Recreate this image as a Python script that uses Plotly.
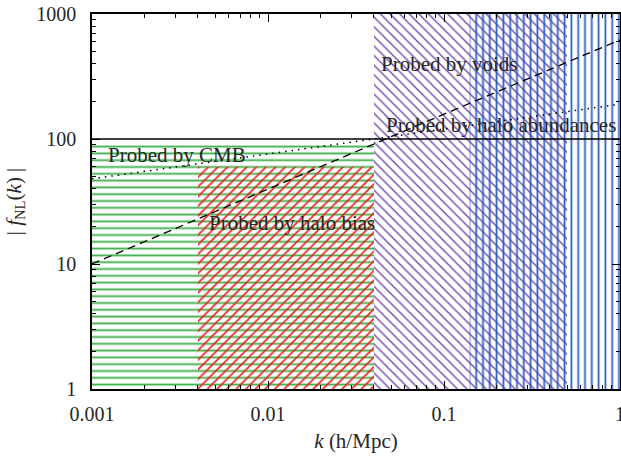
import numpy as np
import plotly.graph_objects as go

# Probed regions in (k, |f_NL|) space: [k_min, k_max], [f_min, f_max]
cmb_k = [0.001, 0.04]
cmb_f = [1, 90]
bias_k = [0.004, 0.04]
bias_f = [1, 60]
voids_k = [0.04, 0.5]
voids_f = [1, 1000]
abund_k = [0.14, 1.0]
abund_f = [1, 1000]

# Model curves
dashed_k = [0.001, 0.01, 0.1, 1.0]
dashed_f = [10, 40, 158, 620]
dotted_k = [0.001, 0.01, 0.1, 1.0]
dotted_f = [48, 76, 120, 190]

# Upper bound line at |f_NL| = 100
bound_k = [0.001, 1.0]
bound_f = [100, 100]

xtick_vals = [0.001, 0.01, 0.1, 1]
xtick_text = ["0.001", "0.01", "0.1", "1"]
ytick_vals = [1, 10, 100, 1000]
ytick_text = ["1", "10", "100", "1000"]

SERIF = "Liberation Serif, Times New Roman, serif"
TXT = "#262626"


def box(kr, fr):
    return ([kr[0], kr[1], kr[1], kr[0], kr[0]],
            [fr[0], fr[0], fr[1], fr[1], fr[0]])


def hatched(kr, fr, shape, color, solidity, size=6.8):
    xs, ys = box(kr, fr)
    return go.Scatter(
        x=xs, y=ys, mode="none", fill="toself",
        fillcolor="rgba(0,0,0,0)",
        fillpattern=dict(shape=shape, fgcolor=color, bgcolor="rgba(0,0,0,0)",
                         size=size, solidity=solidity, fillmode="replace"),
        hoverinfo="skip", showlegend=False,
    )


fig = go.Figure()
fig.add_trace(hatched(cmb_k, cmb_f, "-", "#3eae4c", 0.27))
fig.add_trace(hatched(bias_k, bias_f, "/", "#f0201e", 0.24))
fig.add_trace(hatched(voids_k, voids_f, "\\", "#774db2", 0.22))
fig.add_trace(hatched(abund_k, abund_f, "|", "#2c5cbf", 0.26))

fig.add_trace(go.Scatter(x=bound_k, y=bound_f, mode="lines",
                         line=dict(color="black", width=1.5),
                         hoverinfo="skip", showlegend=False))
fig.add_trace(go.Scatter(x=dashed_k, y=dashed_f, mode="lines",
                         line=dict(color="black", width=1.3, dash="8px,5px"),
                         hoverinfo="skip", showlegend=False))
fig.add_trace(go.Scatter(x=dotted_k, y=dotted_f, mode="lines",
                         line=dict(color="black", width=1.5, dash="1.5px,5px"),
                         hoverinfo="skip", showlegend=False))

labels = [
    ("Probed by CMB", 0.0012, 75),
    ("Probed by halo bias", 0.00448, 21.4),
    ("Probed by voids", 0.043, 400),
    ("Probed by halo abundances", 0.0459, 130),
]
for text, k, f in labels:
    fig.add_annotation(x=np.log10(k), y=np.log10(f), text=text,
                       xref="x", yref="y", showarrow=False,
                       xanchor="left", yanchor="middle",
                       font=dict(family=SERIF, size=21, color=TXT))

axis_common = dict(
    type="log", showgrid=False, zeroline=False, automargin=False,
    showline=True, linecolor="black", linewidth=1.5, mirror="ticks",
    ticks="inside", ticklen=8, tickwidth=1.3, tickcolor="black",
    minor=dict(ticks="inside", ticklen=4, tickwidth=1, tickcolor="black",
               dtick="D1", showgrid=False),
    tickfont=dict(family=SERIF, size=20, color=TXT),
)

fig.update_xaxes(**axis_common, range=[-3, 0],
                 tickvals=xtick_vals, ticktext=xtick_text,
                 ticklabelstandoff=6, ticklabeloverflow="allow",
                 title=dict(text="<i>k</i> (h/Mpc)", standoff=10,
                            font=dict(family=SERIF, size=21, color=TXT)))
fig.update_yaxes(**axis_common, range=[0, 3],
                 tickvals=ytick_vals, ticktext=ytick_text,
                 ticklabelstandoff=10,
                 title=dict(text="| <i>f</i><sub>NL</sub>(<i>k</i>) |", standoff=9,
                            font=dict(family=SERIF, size=21, color=TXT)))

fig.update_layout(
    width=621, height=456,
    margin=dict(l=92, r=1, t=14, b=67),
    paper_bgcolor="white", plot_bgcolor="white",
    showlegend=False,
)

fig.write_html("out.html")
